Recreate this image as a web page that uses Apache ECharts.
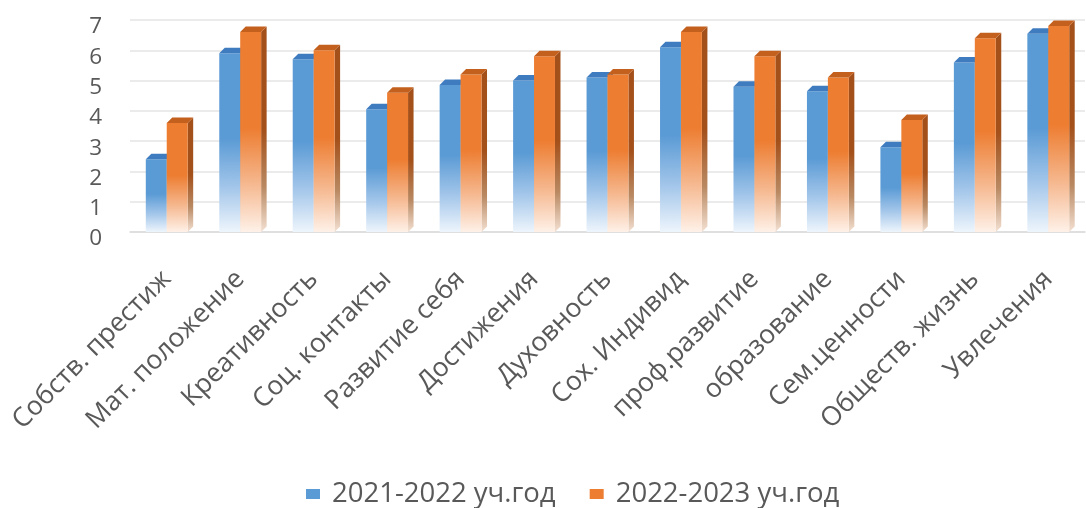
<!DOCTYPE html>
<html>
<head>
<meta charset="utf-8">
<script src="https://cdn.jsdelivr.net/npm/echarts@6/dist/echarts.min.js"></script>
<style>
html,body{margin:0;padding:0;background:#fff;}
#chart{width:1086px;height:508px;}
</style>
</head>
<body>
<div id="chart"></div>
<script>
const categories = ['Собств. престиж','Мат. положение','Креативность','Соц. контакты','Развитие себя','Достижения','Духовность','Сох. Индивид','проф.развитие','образование','Сем.ценности','Обществ. жизнь','Увлечения'];
const seriesNames = ['2021-2022 уч.год','2022-2023 уч.год'];
const values2122 = [2.4, 5.9, 5.7, 4.05, 4.85, 5.0, 5.1, 6.1, 4.8, 4.65, 2.8, 5.6, 6.55];
const values2223 = [3.6, 6.6, 6.0, 4.6, 5.2, 5.8, 5.2, 6.6, 5.8, 5.1, 3.7, 6.4, 6.8];
const yTicks = {min: 0, max: 7, interval: 1};

const chart = echarts.init(document.getElementById('chart'));
const G = echarts.graphic;

function makeRender(isLeft, pal) {
  return function (params, api) {
    const i = api.value(0), v = api.value(1);
    const top = api.coord([i, v]);
    const base = api.coord([i, 0]);
    const bw = api.size([1, 0])[0];
    const fw = bw * 0.285;
    const dx = bw * 0.075, dy = 5.5;
    const c = top[0];
    const x0 = isLeft ? c - fw : c;
    const x1 = x0 + fw;
    const yt = top[1], yb = base[1];
    const frontGrad = new G.LinearGradient(0, 0, 0, 1, [
      {offset: 0, color: pal.front[0]},
      {offset: 0.48, color: pal.front[0]},
      {offset: 0.75, color: pal.front[1]},
      {offset: 1, color: pal.front[2]}
    ]);
    const sideGrad = new G.LinearGradient(0, 0, 0, 1, [
      {offset: 0, color: pal.side[0]},
      {offset: 0.5, color: pal.side[0]},
      {offset: 0.78, color: pal.side[1]},
      {offset: 1, color: pal.side[2]}
    ]);
    return {
      type: 'group',
      children: [
        {type: 'polygon', shape: {points: [[x1, yt], [x1 + dx, yt - dy], [x1 + dx, yb - dy], [x1, yb]]}, style: {fill: sideGrad}},
        {type: 'rect', shape: {x: x0, y: yt, width: fw, height: yb - yt}, style: {fill: frontGrad}},
        {type: 'polygon', shape: {points: [[x0, yt], [x0 + dx, yt - dy], [x1 + dx, yt - dy], [x1, yt]]}, style: {fill: pal.cap}}
      ]
    };
  };
}

const bluePal = {front: ['#5B9BD5', '#A3C6EA', '#EEF5FC'], side: ['#3E72A8', '#86AAD0', '#E6EFF8'], cap: '#3F7CBF'};
const orangePal = {front: ['#ED7D31', '#F5B68C', '#FEF1E8'], side: ['#A4501A', '#B98962', '#F3E0D2'], cap: '#C4601D'};

const font = '"Open Sans", "Noto Sans", sans-serif';

chart.setOption({
  animation: false,
  backgroundColor: '#fff',
  grid: {left: 130, right: 1, top: 20, bottom: 276},
  legend: {
    data: seriesNames,
    left: 301, top: 475,
    icon: 'rect', itemWidth: 14, itemHeight: 10, itemGap: 34,
    textStyle: {fontFamily: font, fontSize: 27.5, color: '#595959', padding: [0, 0, 0, 7]}
  },
  xAxis: {
    type: 'category', data: categories, boundaryGap: true,
    axisLine: {show: true, lineStyle: {color: '#DCDCDC', width: 1.5}},
    axisTick: {show: false},
    axisLabel: {interval: 0, rotate: 45, margin: 43, fontFamily: font, fontSize: 26.5, color: '#595959'}
  },
  yAxis: {
    type: 'value', min: yTicks.min, max: yTicks.max, interval: yTicks.interval,
    axisLine: {show: false}, axisTick: {show: false},
    axisLabel: {
      margin: 28,
      formatter: '{t|{value}}',
      rich: {t: {fontFamily: font, fontSize: 22.5, color: '#595959', padding: [14, 0, 0, 0]}}
    },
    splitLine: {lineStyle: {color: '#E4E4E4', width: 1.5}}
  },
  series: [
    {name: seriesNames[0], type: 'custom',
     itemStyle: {color: '#5B9BD5'},
     renderItem: makeRender(true, bluePal),
     data: values2122.map((v, i) => [i, v])},
    {name: seriesNames[1], type: 'custom',
     itemStyle: {color: '#ED7D31'},
     renderItem: makeRender(false, orangePal),
     data: values2223.map((v, i) => [i, v])}
  ]
});
</script>
</body>
</html>
